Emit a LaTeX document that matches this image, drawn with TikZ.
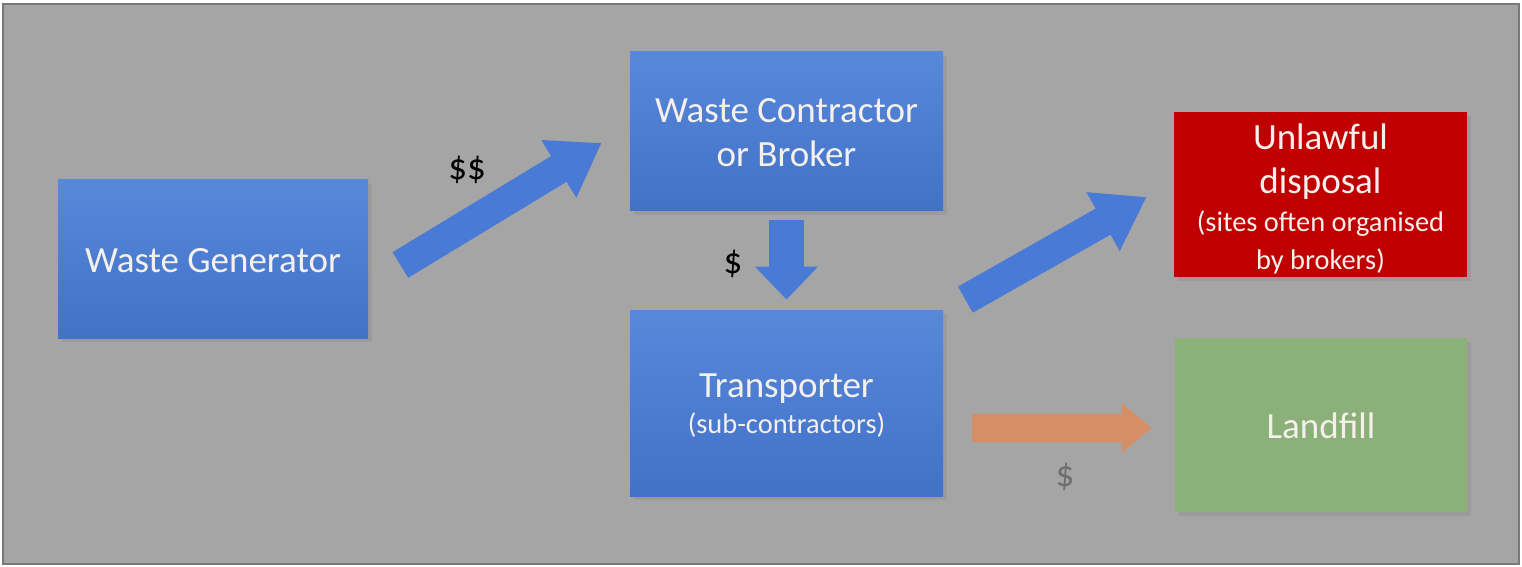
\documentclass[tikz,border=0pt]{standalone}
\usepackage{fontspec}
\setmainfont{Carlito}
\usetikzlibrary{calc,arrows.meta,shadows}
\definecolor{bg}{RGB}{165,165,165}
\definecolor{frame}{RGB}{120,120,120}
\definecolor{bluetop}{RGB}{88,136,218}
\definecolor{bluebot}{RGB}{66,114,200}
\definecolor{arrowblue}{RGB}{72,122,214}
\definecolor{redbox}{RGB}{192,0,0}
\definecolor{greenbox}{RGB}{140,176,122}
\definecolor{orangearrow}{RGB}{214,142,102}
\definecolor{boxtext}{RGB}{245,240,235}
\definecolor{graydollar}{RGB}{110,110,110}
\tikzset{
  box/.style={rectangle, inner sep=0pt, align=center, text=boxtext,
    font=\fontsize{18.5}{22.5}\selectfont,
    drop shadow={opacity=0.25, shadow xshift=2pt, shadow yshift=-2pt}},
  bluebox/.style={box, top color=bluetop, bottom color=bluebot},
  boxlabel/.style={align=center, text=boxtext, inner sep=0pt,
    font=\fontsize{18.5}{22}\selectfont},
  fatarrow/.style={draw=arrowblue, line width=15pt,
    -{Triangle[length=25pt, width=32pt]}},
  dollar/.style={font=\fontsize{18.5}{22}\selectfont, text=black}
}
\newcommand{\smalltext}{\fontsize{14.2}{18}\selectfont}
\begin{document}
\begin{tikzpicture}[x=0.5pt,y=-0.5pt]
\useasboundingbox (0,0) rectangle (1522,567);
\fill[white] (0,0) rectangle (1522,567);
\draw[frame, line width=1pt, fill=bg] (3,4) rectangle (1519,564);

\node[bluebox, minimum width=155pt, minimum height=79pt] (gen) at (213,259) {};
\node[boxlabel] (gent) at ($(gen)+(0,2)$) {Waste Generator};
\node[bluebox, minimum width=156.5pt, minimum height=79.5pt] (con) at (786.5,131.5) {};
\node[boxlabel] (cont) at ($(con)+(0,1)$) {Waste Contractor\\or Broker};
\node[bluebox, minimum width=156.5pt, minimum height=93pt] (tra) at (786.5,403) {};
\node[boxlabel] (trat) at ($(tra)+(0,3)$) {Transporter\\[-4pt]{\smalltext (sub-contractors)}};
\node[box, fill=redbox, minimum width=146.5pt, minimum height=82.5pt] (unl) at (1320.5,194.5) {};
\node[boxlabel] (unlt) at ($(unl)+(0,4)$)
  {Unlawful\\disposal\\[-3pt]{\smalltext (sites often organised}\\[-3pt]{\smalltext by brokers)}};
\node[box, fill=greenbox, minimum width=146pt, minimum height=87pt] (lan) at (1321,425) {};
\node[boxlabel] (lant) at ($(lan)+(0,1)$) {Landfill};

\draw[fatarrow] ($(gen.east)+(32,6)$) -- ($(con.west)+(-28,11.5)$);
\draw[draw=arrowblue, line width=17.5pt, -{Triangle[length=16.5pt, width=30.5pt]}]
  ($(con.south)+(0,9)$) -- ($(tra.north)+(0,-10)$);
\draw[fatarrow] ($(tra.north east)+(22,-10)$) -- ($(unl.west)+(-27,2.5)$);
\draw[draw=orangearrow, line width=14pt, -{Triangle[length=15pt, width=24pt]}]
  ($(tra.east)+(29,25)$) -- ($(lan.west)+(-23,3)$);

\node[dollar] (d1) at (467,170) {\$\$};
\node[dollar] (d2) at (733,264) {\$};
\node[dollar, text=graydollar] (d3) at (1065,477) {\$};
\end{tikzpicture}
\end{document}
